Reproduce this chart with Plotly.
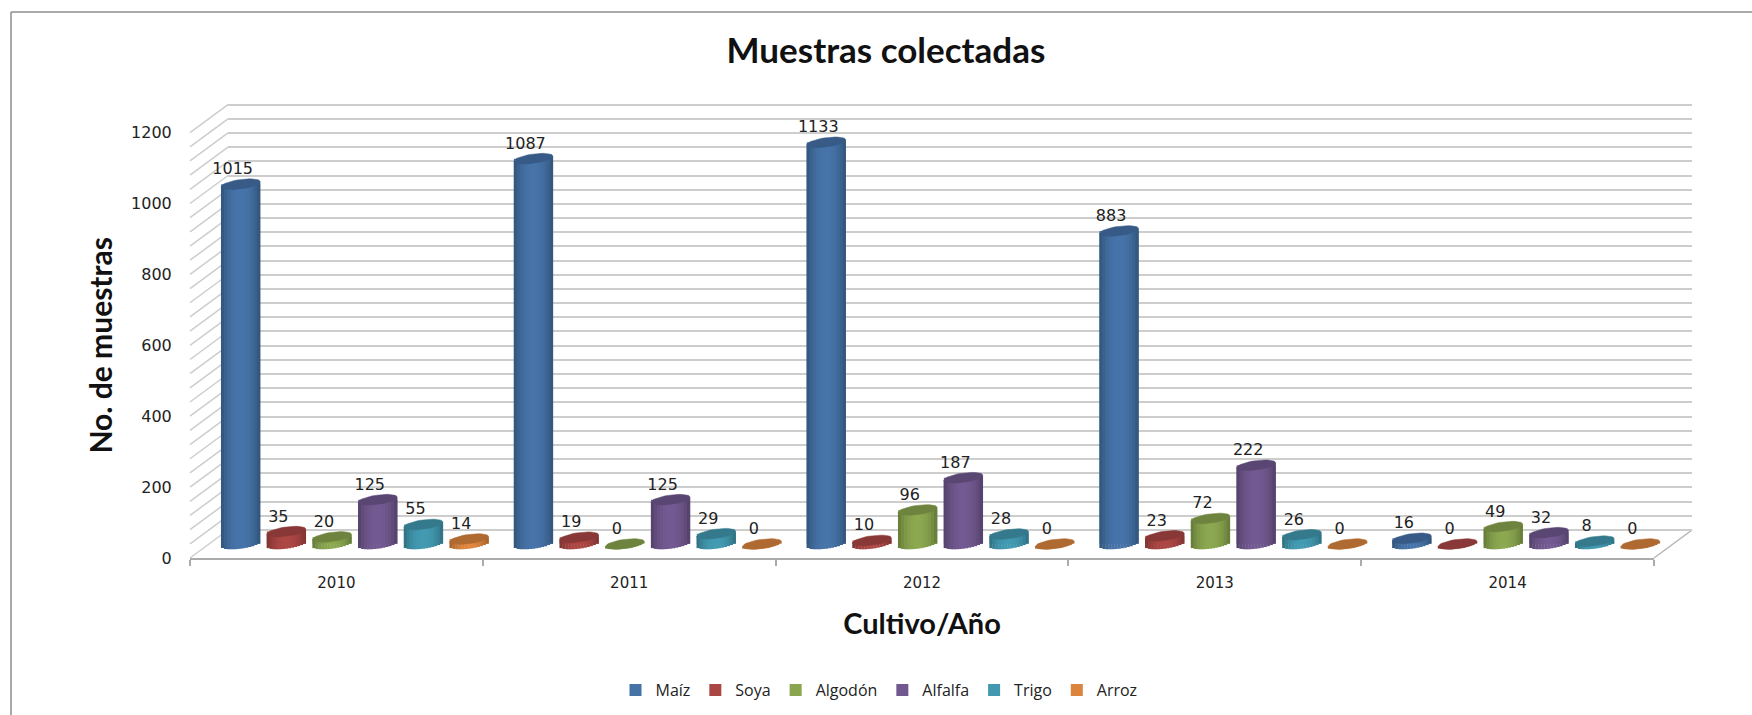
import math
import plotly.graph_objects as go

years = ["2010", "2011", "2012", "2013", "2014"]
maiz = [1015, 1087, 1133, 883, 16]
soya = [35, 19, 10, 23, 0]
algodon = [20, 0, 96, 72, 49]
alfalfa = [125, 125, 187, 222, 32]
trigo = [55, 29, 28, 26, 8]
arroz = [14, 0, 0, 0, 0]
series_names = ["Maíz", "Soya", "Algodón", "Alfalfa", "Trigo", "Arroz"]
series_values = [maiz, soya, algodon, alfalfa, trigo, arroz]
series_colors = ["#4572A7", "#AA4643", "#89A54E", "#71588F", "#4198AF", "#DB843D"]
y_ticks = [0, 200, 400, 600, 800, 1000, 1200]

W, H = 1752, 715
FX0, FX1, FY0 = 190, 1654, 558
SCALE = 0.3545
YMAX = 1200
GRID_STEP = 40
DEPTH_X, DEPTH_Y = 38, 28
MID_X, MID_Y = 18.5, 14
CAT_PX = (FX1 - FX0) / len(years)
SLOT = 45.7 / CAT_PX
BAR_PX = 39
A, B, TILT = BAR_PX / 2, 4.7, 2.5
N_STRIPS = 13
FONT = "DejaVu Sans"
TEXT = "#222222"
GRID = "#cdcdcd"


def shade(hex_color, f):
    rgb = [int(hex_color[i:i + 2], 16) for i in (1, 3, 5)]
    return "rgb(" + ",".join(str(min(255, round(c * f))) for c in rgb) + ")"


def px_x(px):
    return px / W


def px_y(px):
    return 1 - px / H


fig = go.Figure()

idx = list(range(len(years)))
fig.add_trace(go.Scatter(x=idx, y=[0] * 5, mode="markers", marker=dict(opacity=0), xaxis="x", yaxis="y",
                         showlegend=False, hoverinfo="skip"))
fig.add_trace(go.Scatter(x=idx, y=[0] * 5, mode="markers", marker=dict(opacity=0), xaxis="x2", yaxis="y2",
                         showlegend=False, hoverinfo="skip"))

for j, (name, vals, col) in enumerate(zip(series_names, series_values, series_colors)):
    xc = [i + (j - 2.5) * SLOT for i in idx]
    fig.add_trace(go.Bar(x=xc, y=vals, base=0, width=BAR_PX / CAT_PX, name=name,
                         marker=dict(color=col, line=dict(width=0)), xaxis="x3", yaxis="y3",
                         legendgroup=name, hovertemplate=name + ": %{y}<extra></extra>"))
    for k in range(N_STRIPS):
        u = (k + 0.5) / N_STRIPS * 2 - 1
        f = 0.70 + 0.32 * (1 - u * u) ** 0.8
        lower = (-B * (1 - u * u) ** 0.5 + TILT * u) / SCALE
        top = TILT * u / SCALE
        w_px = BAR_PX / N_STRIPS
        fig.add_trace(go.Bar(
            x=[x + u * A / CAT_PX for x in xc],
            y=[v + top - lower for v in vals],
            base=[lower] * len(vals),
            width=(w_px + 0.4) / CAT_PX,
            marker=dict(color=shade(col, f), line=dict(width=0)),
            xaxis="x3", yaxis="y3", showlegend=False, legendgroup=name, hoverinfo="skip"))
    cx, cy = [], []
    for x, v in zip(xc, vals):
        for t in range(0, 41):
            cu = math.cos(t / 40 * 2 * math.pi)
            su = math.sin(t / 40 * 2 * math.pi)
            cx.append(x + A * cu / CAT_PX)
            cy.append(v + (B * su + TILT * cu) / SCALE)
        cx.append(None)
        cy.append(None)
    fig.add_trace(go.Scatter(x=cx, y=cy, mode="lines", fill="toself", fillcolor=shade(col, 0.8),
                             line=dict(color=shade(col, 0.8), width=0.5), xaxis="x3", yaxis="y3",
                             showlegend=False, hoverinfo="skip"))
    fig.add_trace(go.Scatter(x=[x - 8 / CAT_PX for x in xc], y=[v + 14 / SCALE for v in vals],
                             mode="text", text=[str(v) for v in vals], textposition="middle center",
                             textfont=dict(family=FONT, size=16, color=TEXT), xaxis="x3", yaxis="y3",
                             showlegend=False, hoverinfo="skip", cliponaxis=False))

shapes = [
    dict(type="line", xref="paper", yref="paper", x0=px_x(11), x1=px_x(11), y0=px_y(12), y1=px_y(H + 5),
         line=dict(color="#8c8c8c", width=1.5)),
    dict(type="line", xref="paper", yref="paper", x0=px_x(11), x1=px_x(W + 5), y0=px_y(12), y1=px_y(12),
         line=dict(color="#8c8c8c", width=1.5)),
    dict(type="line", xref="paper", yref="paper", x0=px_x(FX1), x1=px_x(FX1 + DEPTH_X), y0=px_y(FY0),
         y1=px_y(FY0 - DEPTH_Y), line=dict(color="#b5b5b5", width=1.5), layer="below"),
]
for v in range(0, YMAX + 1, GRID_STEP):
    yp = FY0 - v * SCALE
    shapes.append(dict(type="line", xref="paper", yref="paper", x0=px_x(FX0), x1=px_x(FX0 + DEPTH_X),
                       y0=px_y(yp), y1=px_y(yp - DEPTH_Y), line=dict(color=GRID, width=1.5), layer="below"))

fig.update_layout(
    width=W, height=H, autosize=False, margin=dict(l=0, r=0, t=0, b=0, autoexpand=False),
    paper_bgcolor="white", plot_bgcolor="rgba(0,0,0,0)", barmode="overlay",
    title=dict(text="<b>Muestras colectadas</b>", x=886 / W, xanchor="center", y=1 - 51 / H, yanchor="middle",
               font=dict(family="Lato", size=35, color="#111111")),
    shapes=shapes,
    xaxis=dict(domain=[px_x(FX0), px_x(FX1)], range=[-0.5, 4.5], tickmode="array", tickvals=idx, ticktext=years,
               ticks="", showgrid=False, zeroline=False, showline=True, linecolor="#ababab", linewidth=2,
               tickfont=dict(family=FONT, size=15, color=TEXT), ticklabelstandoff=10,
               minor=dict(tickmode="array", tickvals=[i - 0.5 for i in range(6)], ticks="outside", ticklen=6,
                          tickcolor="#ababab", tickwidth=1.5, showgrid=False),
               title=dict(text="<b>Cultivo/Año</b>", standoff=23,
                          font=dict(family="Lato", size=29, color="#111111"))),
    yaxis=dict(domain=[px_y(FY0), px_y(FY0 - YMAX * SCALE)], range=[0, YMAX], tickmode="array", tickvals=y_ticks,
               ticks="outside", ticklen=14, tickcolor="rgba(0,0,0,0)", showgrid=False, zeroline=False, showline=False,
               tickfont=dict(family=FONT, size=16, color=TEXT),
               title=dict(text="<b>No. de muestras</b>", standoff=9,
                          font=dict(family="Lato", size=30, color="#111111"))),
    xaxis2=dict(domain=[px_x(FX0 + DEPTH_X), px_x(FX1 + DEPTH_X)], range=[-0.5, 4.5], showgrid=False, zeroline=False,
                showticklabels=False, ticks="", anchor="y2"),
    # one grid step of slack at each end so the 0 and 1200 gridlines are drawn
    yaxis2=dict(domain=[px_y(FY0 - DEPTH_Y + GRID_STEP * SCALE), px_y(FY0 - DEPTH_Y - (YMAX + GRID_STEP) * SCALE)],
                range=[-GRID_STEP, YMAX + GRID_STEP], dtick=GRID_STEP, tick0=0,
                showgrid=True, gridcolor=GRID, gridwidth=2, zeroline=False, showticklabels=False, ticks="",
                anchor="x2"),
    xaxis3=dict(domain=[px_x(FX0 + MID_X), px_x(FX1 + MID_X)], range=[-0.5, 4.5], visible=False, anchor="y3"),
    yaxis3=dict(domain=[px_y(FY0 - 2), px_y(FY0 - MID_Y - YMAX * SCALE)], range=[-(MID_Y - 2) / SCALE, YMAX],
                visible=False, anchor="x3"),
    legend=dict(orientation="h", x=879 / W, xanchor="center",
                y=1 - 690 / H, yanchor="middle",
                font=dict(family="Open Sans", size=16, color=TEXT), bgcolor="rgba(0,0,0,0)", traceorder="normal"),
)

fig.write_html("out.html", config={"displayModeBar": False},
               post_script="document.body.style.margin='0';document.body.style.overflow='hidden';")
